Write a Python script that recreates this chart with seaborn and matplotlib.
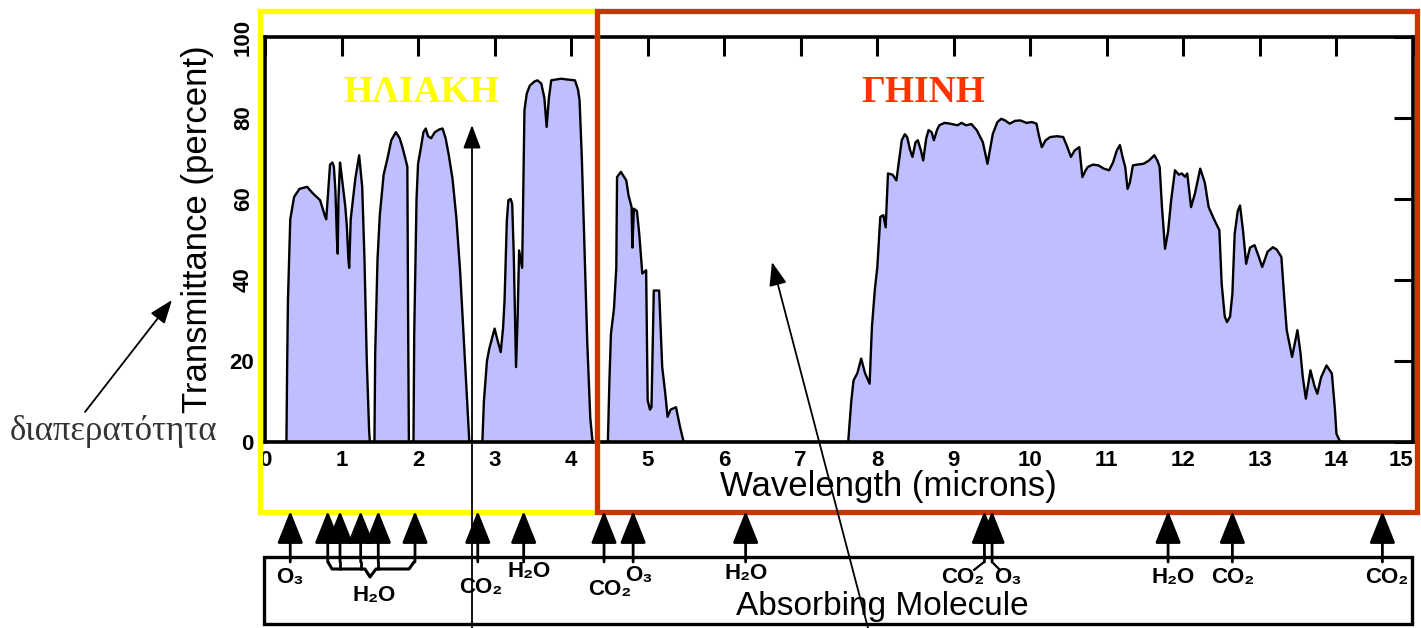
import matplotlib
matplotlib.use("Agg")
import matplotlib.pyplot as plt
import matplotlib.transforms as mtransforms
from matplotlib.patches import Rectangle
import seaborn as sns

# transmittance spectrum (microns, percent)
wavelength = [
    0.0, 0.28, 0.29, 0.30, 0.33, 0.38, 0.45, 0.55, 0.62, 0.72, 0.78, 0.80, 0.83, 0.85, 0.88,
    0.90, 0.92, 0.94, 0.95, 0.96, 0.98, 1.00, 1.05, 1.07, 1.09, 1.10, 1.12, 1.18, 1.23, 1.27,
    1.30, 1.33, 1.36, 1.37,
    1.43, 1.44, 1.47, 1.50, 1.55, 1.60, 1.65, 1.71, 1.76, 1.80, 1.84, 1.86, 1.87, 1.88,
    1.94, 1.95, 1.98, 2.00, 2.04, 2.07, 2.10, 2.13, 2.17, 2.22, 2.28, 2.32, 2.36, 2.40, 2.45,
    2.50, 2.55, 2.57, 2.62, 2.67,
    2.84, 2.86, 2.90, 2.93, 3.00, 3.04, 3.08, 3.11, 3.13, 3.16, 3.18, 3.21, 3.23, 3.25, 3.28,
    3.30, 3.32, 3.36, 3.39, 3.42, 3.46, 3.52, 3.56, 3.61, 3.65, 3.68, 3.71, 3.74, 3.80, 3.87,
    3.95, 4.05, 4.09, 4.11, 4.14, 4.17, 4.21, 4.25, 4.28,
    4.48, 4.50, 4.52, 4.56, 4.59, 4.60, 4.65, 4.69, 4.72, 4.75, 4.79, 4.80, 4.82, 4.86, 4.89,
    4.93, 4.98, 5.00, 5.03, 5.05, 5.08, 5.15, 5.19, 5.23, 5.26, 5.30, 5.37, 5.42, 5.47,
    7.62, 7.66, 7.69, 7.74, 7.79, 7.84, 7.90, 7.93, 7.97, 8.00, 8.04, 8.08, 8.11, 8.14, 8.20,
    8.25, 8.32, 8.36, 8.39, 8.43, 8.46, 8.50, 8.53, 8.57, 8.60, 8.64, 8.67, 8.71, 8.74, 8.78,
    8.81, 8.88, 8.95, 9.05, 9.10, 9.16, 9.23, 9.30, 9.38, 9.44, 9.48, 9.51, 9.57, 9.62, 9.67,
    9.73, 9.80, 9.87, 9.95, 10.02, 10.08, 10.12, 10.15, 10.20, 10.26, 10.35, 10.43, 10.48,
    10.53, 10.58, 10.64, 10.68, 10.72, 10.75, 10.82, 10.89, 10.96, 11.03, 11.08, 11.13, 11.17,
    11.21, 11.24, 11.27, 11.30, 11.34, 11.40, 11.48, 11.55, 11.62, 11.66, 11.69, 11.72, 11.76,
    11.80, 11.84, 11.89, 11.94, 11.98, 12.02, 12.05, 12.10, 12.15, 12.22, 12.28, 12.33, 12.40,
    12.47, 12.50, 12.54, 12.57, 12.61, 12.64, 12.67, 12.71, 12.74, 12.78, 12.82, 12.87, 12.93,
    12.98, 13.03, 13.10, 13.17, 13.22, 13.28, 13.32, 13.35, 13.42, 13.49, 13.53, 13.56, 13.60,
    13.66, 13.71, 13.75, 13.80, 13.87, 13.94, 13.98, 14.00, 14.05, 15.0,
]
transmittance = [
    0, 0, 20, 35, 55, 60.5, 62.5, 63, 61.5, 59.7, 56, 55, 63, 68.5, 69,
    68, 62, 50, 46.5, 60, 69, 66, 58, 53, 45, 43, 55, 65, 70.8, 63,
    45, 20, 3, 0,
    0, 22, 45, 56, 66, 70, 74.5, 76.5, 75, 72.5, 69.5, 68, 30, 0,
    0, 27, 60, 68.7, 73, 76.5, 77.4, 75.5, 75, 76.5, 77.2, 77.4, 75, 71, 65,
    55.5, 42, 35, 17, 0,
    0, 10, 20, 23, 28, 25, 22.2, 28, 35, 54.7, 59.7, 60, 58.8, 46.5, 18.5,
    30, 47.3, 43, 81.9, 86, 88, 89, 89.3, 88.5, 85, 77.8, 85, 89.3, 89.5, 89.7,
    89.5, 89.3, 87, 84.4, 70, 51, 25, 6, 0,
    0, 15, 26.7, 33, 43, 65.4, 66.7, 65.5, 64.6, 60.9, 58, 48, 57.6, 57, 51.4,
    41.6, 42.4, 10.3, 8, 8.6, 37.4, 37.4, 18.5, 12, 6.2, 8, 8.6, 4, 0,
    0, 10, 15.2, 17, 20.6, 17, 14.4, 28.4, 38, 43, 55.6, 56, 53, 66.3, 66,
    64.6, 74.5, 76, 75.3, 72, 70.4, 74, 74.5, 72, 69.5, 75, 77, 76.5, 74.5, 77,
    78.2, 78.8, 78.6, 78.2, 78.8, 78.2, 78.5, 77, 74, 68.7, 73, 76.1, 79, 79.8, 79.4,
    78.6, 79.3, 79.4, 78.8, 79, 78.6, 75, 72.8, 74.5, 75.3, 75.5, 75.3, 73,
    70.4, 72, 72.8, 65.4, 67, 67.9, 68.5, 68.3, 67.5, 67.1, 69, 72, 73.3,
    70, 67.9, 62.5, 64, 68.3, 68.5, 68.7, 69.5, 70.8, 69.5, 67.9, 58, 47.7,
    52, 59.7, 67.1, 66, 66.3, 65.5, 66.3, 58, 61.3, 67.5, 64, 58, 55,
    52.3, 39.1, 31, 29.6, 31, 36.6, 51.4, 57, 58.4, 52, 44, 48, 48.6,
    46, 43.2, 47, 48.1, 47.5, 45.7, 35, 27.6, 21, 27.6, 22, 16, 10.7,
    17.7, 14, 11.9, 16, 18.9, 16.9, 8, 2, 0, 0,
]

x_ticks = list(range(16))
y_ticks = [0, 20, 40, 60, 80, 100]

# absorption bands marked under the plot
arrow_wl = [0.33, 0.82, 0.98, 1.25, 1.48, 1.96, 2.78, 3.38, 4.43, 4.81, 6.28,
            9.40, 9.50, 11.80, 12.64, 14.60]
mol_names = ["O₃", "H₂O", "CO₂", "H₂O", "CO₂", "O₃", "H₂O", "CO₂", "O₃", "H₂O", "CO₂", "CO₂"]
mol_wl = [0.33, 1.43, 2.82, 3.45, 4.50, 4.88, 6.29, 9.12, 9.71, 11.87, 12.65, 14.65]
mol_y = [578, 595, 588, 572, 590, 575, 573, 578, 578, 578, 578, 578]

sns.set_theme(style="white")
plt.rcParams["font.family"] = ["Liberation Sans", "DejaVu Sans"]
plt.rcParams["text.color"] = "black"
plt.rcParams["axes.labelcolor"] = "black"

W, H = 1421, 628
fig = plt.figure(figsize=(W / 100, H / 100), dpi=100)
fig.patch.set_facecolor("white")
ax = fig.add_axes([265 / W, 1 - 442 / H, (1413 - 265) / W, (442 - 37) / H])

ax.fill_between(wavelength, transmittance, 0, color="#BFBFFF", lw=0)
sns.lineplot(x=wavelength, y=transmittance, ax=ax, color="black", lw=1.7,
             estimator=None, sort=False)

ax.set_xlim(0, 15)
ax.set_ylim(0, 100)
ax.set_xticks(x_ticks)
ax.set_xticklabels([str(t) for t in x_ticks], fontsize=16, fontweight="bold")
ax.get_xticklabels()[-1].set_horizontalalignment("right")
ax.set_yticks(y_ticks)
ax.set_yticklabels([str(t) for t in y_ticks], fontsize=16, fontweight="bold")
for lab, t in zip(ax.get_yticklabels(), y_ticks):
    if t >= 40:
        lab.set_rotation(90)
        lab.set_va("center")
ax.tick_params(axis="both", direction="in", length=14, width=2.2, top=True, right=True,
               colors="black", pad=6)
ax.tick_params(axis="y", pad=8)
for sp in ax.spines.values():
    sp.set_linewidth(2.6)
    sp.set_color("black")
ax.set_xlabel("Wavelength (microns)", fontsize=25, color="black")
ax.xaxis.set_label_coords((888 - 265) / 1148, (442 - 470) / 405)
ax.set_ylabel("Transmittance (percent)", fontsize=25, color="black")
ax.yaxis.set_label_coords((214 - 265) / 1148, (442 - 229) / 405)
ax.grid(False)

# overlay in pixel coordinates for the boxes, arrows and annotations
ov = fig.add_axes([0, 0, 1, 1])
ov.set_xlim(0, W)
ov.set_ylim(H, 0)
ov.axis("off")
blend = mtransforms.blended_transform_factory(ax.transData, ov.transData)

ov.add_patch(Rectangle((260, 11), 337, 501, fill=False, ec="#FFFF00", lw=3.8))
ov.add_patch(Rectangle((597, 11), 820, 501, fill=False, ec="#CC3300", lw=3.8))
ov.text(421, 93, "ΗΛΙΑΚΗ", family="Liberation Serif", fontweight="bold", fontsize=27,
        color="#FFFF00", ha="center", va="center")
ov.text(923, 93, "ΓΗΙΝΗ", family="Liberation Serif", fontweight="bold", fontsize=27,
        color="#FF3300", ha="center", va="center")
ov.text(10, 432, "διαπερατότητα", family="Liberation Serif", fontsize=25,
        color="#333333", ha="left", va="center")

thin = dict(arrowstyle="-|>,head_length=0.8,head_width=0.3", color="black", lw=1.3,
            mutation_scale=18, shrinkA=0, shrinkB=0)
ov.annotate("", xy=(172, 300), xytext=(85, 412), arrowprops=thin)
ov.annotate("", xy=(472, 125), xytext=(472, 628), arrowprops=thin)
ov.annotate("", xy=(772, 262), xytext=(868, 628), arrowprops=thin)

# bottom box with absorbing molecules
ov.add_patch(Rectangle((264, 557), 1148, 67, fill=False, ec="black", lw=2.4))
head = dict(arrowstyle="-|>,head_length=1.0,head_width=0.4", color="black", lw=2,
            mutation_scale=20, shrinkA=0, shrinkB=0)
for wl in arrow_wl:
    ov.annotate("", xy=(wl, 511), xytext=(wl, 562), xycoords=blend, textcoords=blend,
                arrowprops=head)
# brace joining the H2O bands near 1-2 microns
ov.plot([328, 332, 365, 370, 376, 409, 414], [562, 569, 569, 577, 569, 569, 562],
        color="black", lw=2.2, solid_joinstyle="round")
for wl in arrow_wl[2:5]:
    ov.plot([wl, wl], [562, 569], transform=blend, color="black", lw=2)
ov.plot([984, 974], [562, 570], color="black", lw=1.6)
ov.plot([992, 1000], [562, 570], color="black", lw=1.6)

for name, wl, yy in zip(mol_names, mol_wl, mol_y):
    ov.text(wl, yy, name, transform=blend, fontsize=16, fontweight="bold", color="black",
            ha="center", va="center", family=["Liberation Sans", "DejaVu Sans"])
ov.text(882, 606, "Absorbing Molecule", fontsize=24, color="black", ha="center", va="center")

fig.savefig("out.png", dpi=100)
